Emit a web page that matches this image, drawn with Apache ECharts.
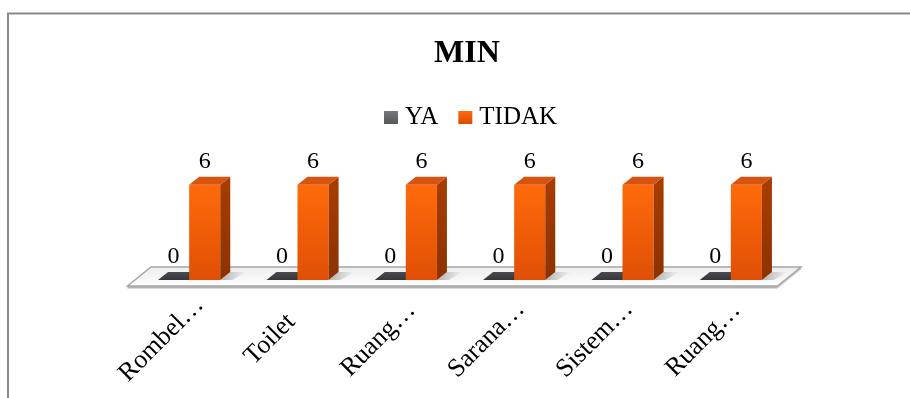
<!DOCTYPE html>
<html>
<head>
<meta charset="utf-8">
<script src="https://cdn.jsdelivr.net/npm/echarts@6/dist/echarts.min.js"></script>
<style>
  html, body { margin: 0; padding: 0; background: #fff; }
  #chart { width: 910px; height: 398px; }
</style>
</head>
<body>
<div id="chart"></div>
<script>
// Facility checklist: count of "YA" / "TIDAK" answers per item
const chartTitle = 'MIN';
const categories = ['Rombel…', 'Toilet', 'Ruang…', 'Sarana…', 'Sistem…', 'Ruang…'];
const seriesNames = ['YA', 'TIDAK'];
const yaValues = [0, 0, 0, 0, 0, 0];
const tidakValues = [6, 6, 6, 6, 6, 6];

const FONT = '"Liberation Serif", "Times New Roman", serif';
const DX = 10, DY = -8;          // depth offset of the pseudo-3D boxes
const BAR_RATIO = 0.287;         // bar width as share of the category band

const lin = (c0, c1, x2, y2) => new echarts.graphic.LinearGradient(0, 0, x2 || 0, y2 === undefined ? 1 : y2, [
  { offset: 0, color: c0 }, { offset: 1, color: c1 }
]);

const faces = [
  { front: lin('#5c5e61', '#3f4043'), side: '#2e2f31', top: lin('#4a4b4e', '#35363a'), legend: lin('#76787b', '#55575a') },
  { front: lin('#ff6a0a', '#e04f06'), side: lin('#a83d00', '#8c3200'), top: '#d65410', legend: lin('#ff6a0a', '#d94c00') }
];

function barRenderer(slot) {
  const f = faces[slot];
  return function (params, api) {
    const idx = api.value(0);
    const val = api.value(1);
    const base = api.coord([idx, 0]);
    const top = api.coord([idx, val]);
    const band = api.size([1, 0])[0];
    const w = band * BAR_RATIO;
    const x0 = slot === 0 ? base[0] - w : base[0];
    const x1 = x0 + w;
    const yt = top[1], yb = base[1];
    const children = [];
    if (yb - yt > 0.5) {
      // soft shadow cast on the floor
      children.push({
        type: 'polygon',
        shape: { points: [[x1, yb], [x1 + DX, yb + DY], [x1 + DX + 16, yb + DY], [x1 + 12, yb]] },
        style: { fill: new echarts.graphic.LinearGradient(0, 0, 1, 0, [
          { offset: 0, color: 'rgba(0,0,0,0.28)' }, { offset: 1, color: 'rgba(0,0,0,0)' }
        ]) }
      });
      children.push({
        type: 'rect',
        shape: { x: x0, y: yt, width: w, height: yb - yt },
        style: { fill: f.front }
      });
      children.push({
        type: 'polygon',
        shape: { points: [[x1, yt], [x1 + DX, yt + DY], [x1 + DX, yb + DY], [x1, yb]] },
        style: { fill: f.side }
      });
    }
    children.push({
      type: 'polygon',
      shape: { points: [[x0, yt], [x0 + DX, yt + DY], [x1 + DX, yt + DY], [x1, yt]] },
      style: { fill: f.top }
    });
    children.push({
      type: 'text',
      style: {
        text: String(val),
        x: (x0 + x1) / 2,
        y: yt + DY - 3,
        align: 'center',
        verticalAlign: 'bottom',
        font: '24px ' + FONT,
        fill: '#000'
      }
    });
    return { type: 'group', children: children };
  };
}

// Floor platform spanning the whole category axis
function floorRenderer(params, api) {
  const n = categories.length;
  const band = api.size([1, 0])[0];
  const a = api.coord([0, 0]);
  const b = api.coord([n - 1, 0]);
  const left = a[0] - band / 2, right = b[0] + band / 2, y = a[1];
  const fx = -7.5, fy = 6, bx = 16, by = -13, t = 2.5;
  const fl = [left + fx, y + fy], fr = [right + fx, y + fy];
  const bl = [left + bx, y + by], br = [right + bx, y + by];
  return {
    type: 'group',
    children: [
      { type: 'polygon', shape: { points: [fl, fr, [fr[0], fr[1] + t], [fl[0], fl[1] + t]] }, style: { fill: '#b4b4b4' } },
      { type: 'polygon', shape: { points: [fr, br, [br[0], br[1] + t], [fr[0], fr[1] + t]] }, style: { fill: '#c8c8c8' } },
      { type: 'polygon', shape: { points: [fl, bl, br, fr] },
        style: { fill: lin('#ececec', '#ffffff'), stroke: '#a6a6a6', lineWidth: 1.5 } }
    ]
  };
}

const chart = echarts.init(document.getElementById('chart'), null, { renderer: 'canvas' });
chart.setOption({
  backgroundColor: '#fff',
  animation: false,
  graphic: [{
    type: 'rect', z: 0, silent: true,
    shape: { x: 8, y: 13.5, width: 1000, height: 500 },
    style: { fill: 'none', stroke: '#8a8a8a', lineWidth: 2 }
  }],
  title: {
    text: chartTitle,
    left: 429, top: 33,
    textStyle: { fontFamily: FONT, fontWeight: 'bold', fontSize: 32, color: '#000' }
  },
  legend: {
    data: seriesNames,
    left: 379, top: 100,
    icon: 'rect', itemWidth: 14, itemHeight: 13, itemGap: 20,
    textStyle: { fontFamily: FONT, fontSize: 25, color: '#000', padding: [0, 0, 0, 2] }
  },
  grid: {
    left: 135, right: 125, top: 169, bottom: 118,
    containLabel: false, outerBoundsMode: 'none'
  },
  xAxis: {
    type: 'category',
    data: categories,
    axisLine: { show: false },
    axisTick: { show: false },
    axisLabel: {
      // rotated labels are centred on a point below-left of each category
      interval: 0, rotate: 45, margin: 87,
      align: 'center', verticalAlign: 'bottom', lineHeight: 78,
      fontFamily: FONT, fontSize: 26, color: '#000'
    }
  },
  yAxis: { type: 'value', min: 0, max: 7, show: false, splitLine: { show: false } },
  series: [
    {
      type: 'custom', name: '__floor', z: 1, silent: true,
      data: [[0, 0]], encode: { x: 0, y: 1 },
      renderItem: floorRenderer
    },
    {
      type: 'custom', name: seriesNames[0], z: 2,
      itemStyle: { color: faces[0].legend },
      data: yaValues.map((v, i) => [i, v]), encode: { x: 0, y: 1 },
      renderItem: barRenderer(0)
    },
    {
      type: 'custom', name: seriesNames[1], z: 3,
      itemStyle: { color: faces[1].legend },
      data: tidakValues.map((v, i) => [i, v]), encode: { x: 0, y: 1 },
      renderItem: barRenderer(1)
    }
  ]
});
</script>
</body>
</html>
